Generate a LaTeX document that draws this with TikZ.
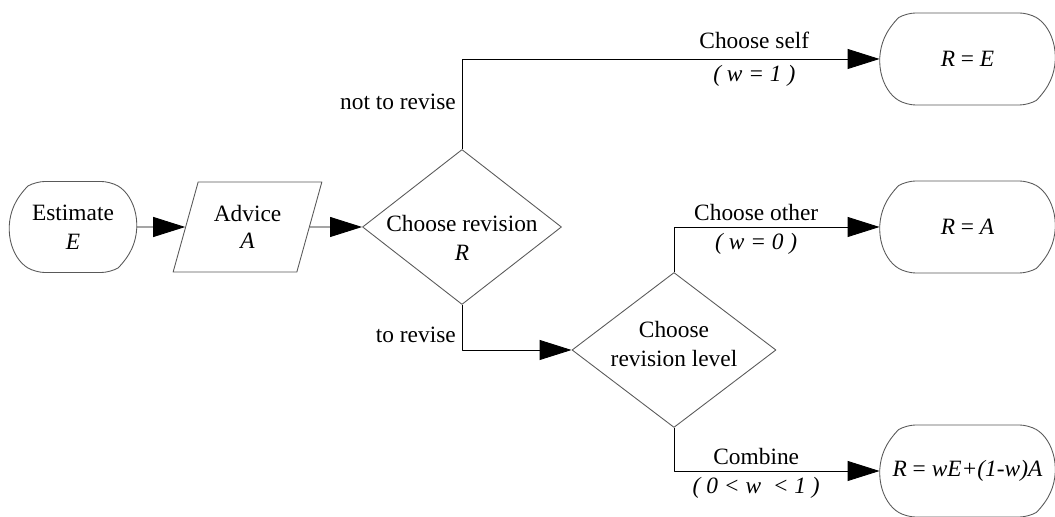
\documentclass[tikz,border=0pt]{standalone}
\usepackage{fontspec}
\setmainfont{Liberation Serif}
\usetikzlibrary{shapes.geometric,shapes.misc,arrows.meta}
\begin{document}
\begin{tikzpicture}[>={Triangle[length=0.64cm,width=0.4cm]}, font=\fontsize{13.3}{16.5}\selectfont, line join=round, line width=0.5pt,
	term/.style={draw=black!65, rounded rectangle, rounded rectangle arc length=120, rounded corners=5pt, minimum width=2.54cm, minimum height=1.82cm, inner sep=0pt, align=center},
	result/.style={term, minimum width=3.5cm, minimum height=1.84cm},
	inout/.style={draw=black!65, trapezium, trapezium left angle=70, trapezium right angle=110, trapezium stretches=true, minimum width=2.98cm, minimum height=1.8cm, align=center},
	decision/.style={draw=black!65, diamond, inner sep=0pt, minimum width=#1, minimum height=3.1cm},
	decision/.default=4cm]
	\def\yA{5.80} % hang chinh
	\useasboundingbox (0,0) rectangle (21.1,10.34);
	\node[term] (est) at (1.46,\yA) {Estimate\\\textit{E}};
	\node[inout] (adv) at (4.95,\yA) {Advice\\[-1pt]\textit{A}};
	\node[decision=3.98cm, label={[align=center,yshift=-0.22cm]center:{Choose revision\\\textit{R}}}] (dec1) at (9.24,\yA) {};
	\node[decision=4.08cm, label={[align=center,yshift=0.12cm]center:{Choose\\revision level}}] (dec2) at (13.48,3.34) {};
	\node[result] (self) at (19.35,9.16) {\textit{R} = \textit{E}};
	\node[result] (other) at (19.35,\yA) {\textit{R} = \textit{A}};
	\node[result] (comb) at (19.35,0.92) {\textit{R} = \textit{wE+(1-w)A}};
	
	\draw[->] (est) -- (adv);
	\draw[->] (adv) -- (dec1);
	\draw[->] (dec1.north) |- node[pos=.26,left] (nrev) {not to revise}
		node[pos=.85,above,yshift=2pt] (lself) {Choose self}
		node[pos=.85,below] (wself) {\textit{( w = 1 )}} (self.west);
	\draw[->] (dec1.south) |- node[pos=.33,left] (rev) {to revise} (dec2.west);
	\draw[->] (dec2.north) |- node[pos=.7,above] (lother) {Choose other}
		node[pos=.7,below] (wother) {\textit{( w = 0 )}} (other.west);
	\draw[->] (dec2.south) |- node[pos=.7,above] (lcomb) {Combine}
		node[pos=.7,below] (wcomb) {\textit{( 0 < w \ < 1 )}} (comb.west);
\end{tikzpicture}
\end{document}
